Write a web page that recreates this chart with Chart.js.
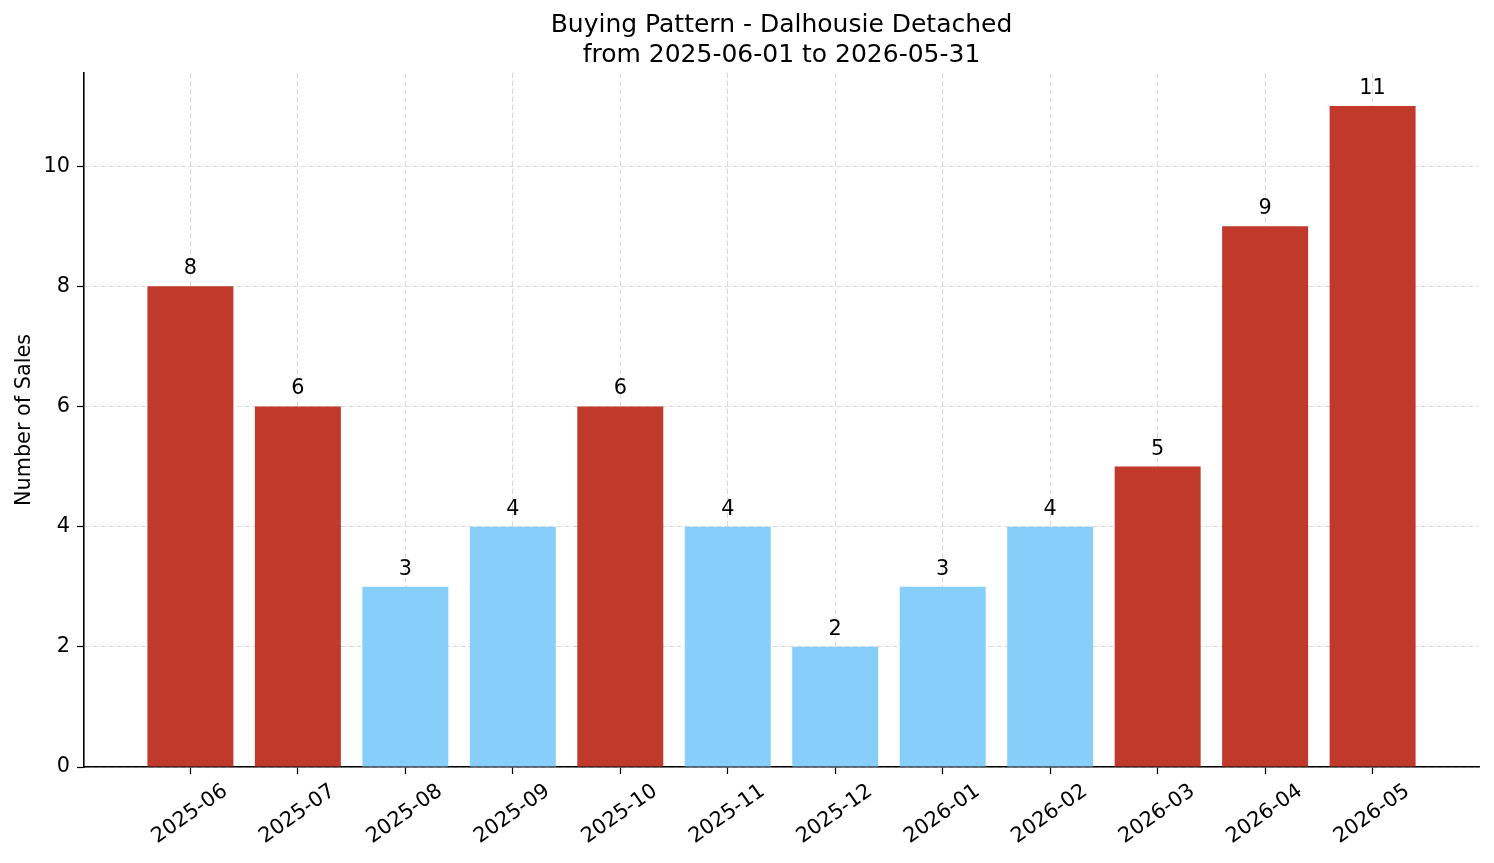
<!DOCTYPE html>
<html>
<head>
<meta charset="utf-8">
<script src="https://cdn.jsdelivr.net/npm/chart.js@4"></script>
<style>
  html, body { margin: 0; padding: 0; background: #fff; }
  canvas { display: block; }
</style>
</head>
<body>
<canvas id="sales-chart" width="1494" height="863"></canvas>
<script>
// Monthly sales, Dalhousie Detached
const months = ["2025-06", "2025-07", "2025-08", "2025-09", "2025-10", "2025-11",
                "2025-12", "2026-01", "2026-02", "2026-03", "2026-04", "2026-05"];
const sales = [8, 6, 3, 4, 6, 4, 2, 3, 4, 5, 9, 11];
const yTicks = [0, 2, 4, 6, 8, 10];

const HOT = "#c0392b";
const COLD = "#87cefa";

// months at or above the median are "hot"
let sorted = [...sales].sort((a, b) => a - b);
let median = (sorted[5] + sorted[6]) / 2;
let barColors = sales.map(v => v >= median ? HOT : COLD);

const FONT = "'DejaVu Sans', sans-serif";
Chart.defaults.font.family = FONT;
Chart.defaults.color = "#000";

// value labels above each bar
const valueLabels = {
    id: "valueLabels",
    afterDatasetsDraw(chart) {
        const ctx = chart.ctx;
        const meta = chart.getDatasetMeta(0);
        ctx.save();
        ctx.font = "20.8px " + FONT;
        ctx.fillStyle = "#000";
        ctx.textAlign = "center";
        ctx.textBaseline = "alphabetic";
        meta.data.forEach((bar, i) => {
            ctx.fillText(String(sales[i]), bar.x, bar.y - 12);
        });
        ctx.restore();
    }
};

const gridStyle = {
    offset: false,
    color: "rgba(160,160,160,0.5)",
    lineWidth: 0.8,
    tickColor: "#000",
    tickWidth: 1.2,
    tickLength: 7,
    tickBorderDash: []
};
const borderStyle = { color: "#000", width: 1.6, dash: [5, 3] };

new Chart(document.getElementById("sales-chart"), {
    type: "bar",
    data: {
        datasets: [{
            data: sales.map((v, i) => ({ x: i, y: v })),
            backgroundColor: barColors,
            borderWidth: 0,
            categoryPercentage: 1.0,
            barPercentage: 0.8
        }]
    },
    options: {
        responsive: false,
        animation: false,
        devicePixelRatio: 1,
        layout: { padding: { left: 0, right: 15, top: 0, bottom: 0 } },
        plugins: {
            legend: { display: false },
            tooltip: { enabled: false },
            title: {
                display: true,
                fullSize: false,
                text: ["Buying Pattern - Dalhousie Detached", "from 2025-06-01 to 2026-05-31"],
                font: { size: 25, weight: "normal", lineHeight: 1.2 },
                color: "#000",
                padding: { top: 10, bottom: 3 }
            }
        },
        scales: {
            x: {
                type: "linear",
                offset: false,
                min: -0.99,
                max: 11.99,
                z: 1,
                afterBuildTicks: s => { s.ticks = months.map((m, i) => ({ value: i })); },
                afterFit: s => { s.height = 96; },
                grid: gridStyle,
                border: borderStyle,
                ticks: {
                    callback: v => months[v],
                    font: { size: 20.8 },
                    minRotation: 35,
                    maxRotation: 35,
                    autoSkip: false,
                    labelOffset: 35,
                    padding: 5
                }
            },
            y: {
                min: 0,
                max: 11.55,
                z: 1,
                afterBuildTicks: s => { s.ticks = yTicks.map(v => ({ value: v })); },
                afterFit: s => { s.width = 84; },
                grid: gridStyle,
                border: borderStyle,
                ticks: { font: { size: 20.8 }, padding: 7 },
                title: {
                    display: true,
                    text: "Number of Sales",
                    font: { size: 20.8 },
                    color: "#000",
                    padding: { top: 12, bottom: 0 }
                }
            }
        }
    },
    plugins: [valueLabels]
});
</script>
</body>
</html>
